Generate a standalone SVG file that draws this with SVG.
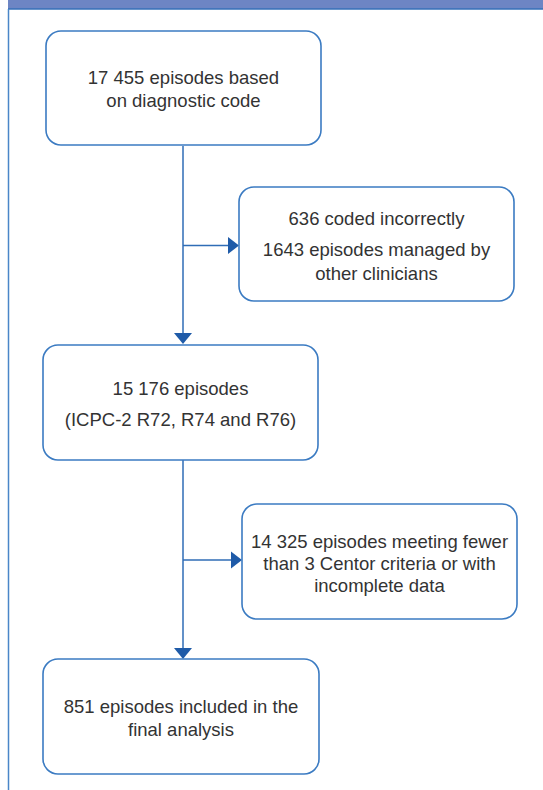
<svg xmlns="http://www.w3.org/2000/svg" width="543" height="790" viewBox="0 0 543 790">
<defs>
<style>
.box{fill:#ffffff;stroke:#3b7bc2;stroke-width:1.6}
.t{font-family:"Liberation Sans",Arial,sans-serif;font-size:18.5px;fill:#333333;text-anchor:middle}
.ln{stroke:#2f6db6;stroke-width:1.5;fill:none}
.ah{fill:#1f5ba8}
</style>
</defs>
<rect x="0" y="0" width="543" height="790" fill="#ffffff"/>
<g id="frame">
<rect x="8" y="0" width="535" height="9" fill="#6d85c4"/>
<line x1="8" y1="9" x2="543" y2="9" stroke="#3670b8" stroke-width="1.5"/>
<line x1="8.5" y1="9" x2="8.5" y2="790" stroke="#4a86c8" stroke-width="1.5"/>
</g>
<g id="connectors">
<line class="ln" x1="183" y1="146" x2="183" y2="334"/>
<polygon class="ah" points="174,333 192,333 183,344"/>
<line class="ln" x1="183" y1="245.5" x2="229" y2="245.5"/>
<polygon class="ah" points="228,237 239,245.5 228,254"/>
<line class="ln" x1="183" y1="460" x2="183" y2="649"/>
<polygon class="ah" points="174,648 192,648 183,659"/>
<line class="ln" x1="183" y1="560" x2="232" y2="560"/>
<polygon class="ah" points="231,551.5 242,560 231,568.5"/>
</g>
<g id="n1">
<rect class="box" x="46" y="31" width="275" height="114" rx="15"/>
<text class="t" x="183.5" y="84">17 455 episodes based</text>
<text class="t" x="183.5" y="107">on diagnostic code</text>
</g>
<g id="n2">
<rect class="box" x="239" y="187" width="275" height="114" rx="15"/>
<text class="t" x="376.5" y="225">636 coded incorrectly</text>
<text class="t" x="376.5" y="256">1643 episodes managed by</text>
<text class="t" x="376.5" y="280">other clinicians</text>
</g>
<g id="n3">
<rect class="box" x="43" y="345" width="275" height="115" rx="15"/>
<text class="t" x="180.5" y="395">15 176 episodes</text>
<text class="t" x="180.5" y="426">(ICPC-2 R72, R74 and R76)</text>
</g>
<g id="n4">
<rect class="box" x="242" y="504" width="275" height="115" rx="15"/>
<text class="t" x="379.5" y="548">14 325 episodes meeting fewer</text>
<text class="t" x="379.5" y="570">than 3 Centor criteria or with</text>
<text class="t" x="379.5" y="592">incomplete data</text>
</g>
<g id="n5">
<rect class="box" x="43" y="659" width="276" height="115" rx="15"/>
<text class="t" x="181" y="713">851 episodes included in the</text>
<text class="t" x="181" y="736">final analysis</text>
</g>
</svg>
